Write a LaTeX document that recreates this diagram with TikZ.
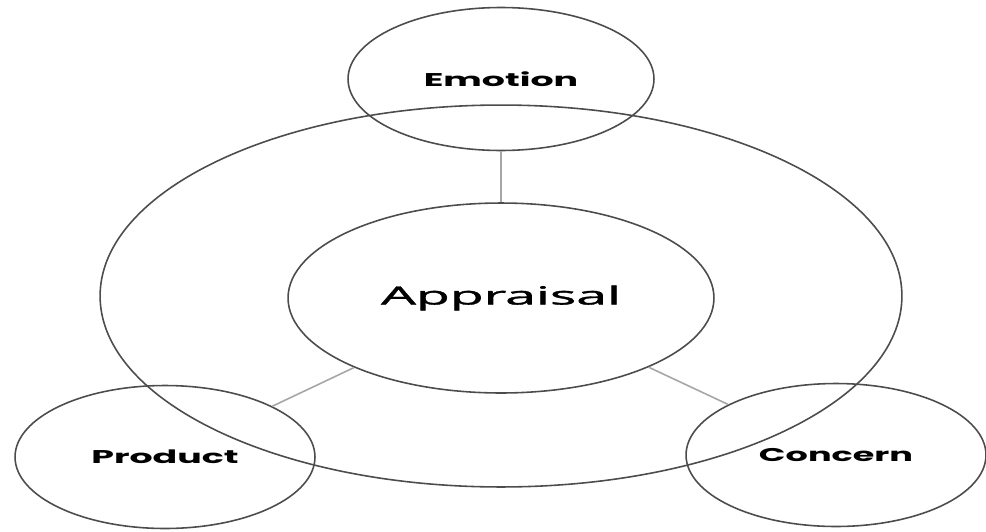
\documentclass[tikz,border=0pt]{standalone}
\usepackage{fontspec}
\newfontfamily\appfont{Open Sans}[FakeBold=1.2]
\newfontfamily\labfont{Poppins}
\usetikzlibrary{shapes.geometric}
% the source picture is stretched sideways, so the text is too
\newcommand{\widetext}[2]{\scalebox{#1}[1]{#2}}
\begin{document}
\begin{tikzpicture}[x=0.02cm,y=-0.02cm]
    \tikzstyle{blob}=[ellipse, draw=black!70, line width=0.9pt, inner sep=0pt]
    \tikzstyle{small}=[blob, minimum width=6cm, minimum height=2.86cm]
    \tikzstyle{link}=[draw=black!35, line width=0.9pt]
    \useasboundingbox (0,0) rectangle (986,531);
    \node[blob, minimum width=16.04cm, minimum height=7.64cm] (ring) at (501,296){};
    \node[blob, minimum width=8.52cm, minimum height=3.8cm] (app) at (501,298)
        {\widetext{2.2}{\appfont\fontsize{14.3}{16}\selectfont Appraisal}};
    \node[small, minimum width=6.12cm] (emo) at (501,79)
        {\widetext{1.97}{\labfont\bfseries\fontsize{10.5}{12}\selectfont Emotion}};
    \node[small] (prod) at (165,457)
        {\widetext{1.97}{\labfont\bfseries\fontsize{10.5}{12}\selectfont Product}};
    \node[small] (conc) at (836,455)
        {\widetext{1.9}{\labfont\bfseries\fontsize{10.5}{12}\selectfont Concern}};
    %\draw (ring) -- (app);
    \draw[link] (emo) -- (app);
    \draw[link] (app) -- (prod);
    \draw[link] (app) -- (conc);
\end{tikzpicture}
\end{document}
